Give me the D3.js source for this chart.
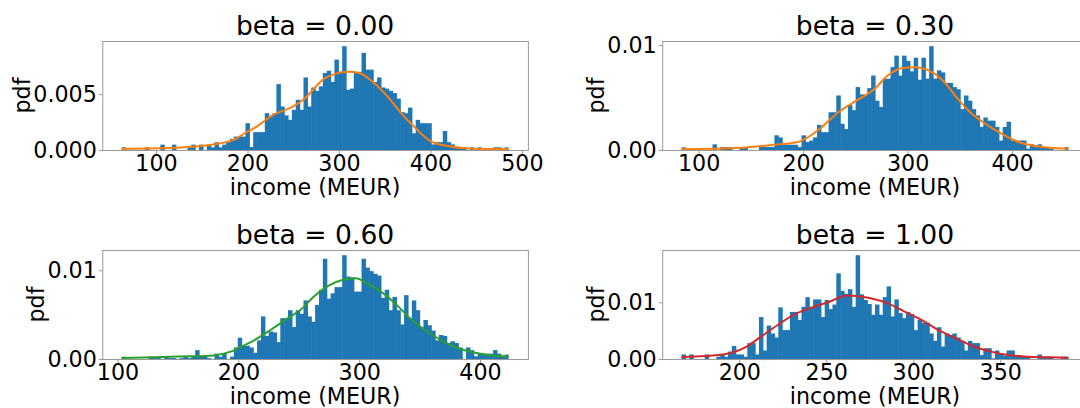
<!DOCTYPE html>
<head>
	<meta charset="utf-8" />
	<style>
		body {
			margin: 0;
			background-color: #fff;
			overflow: hidden;
		}
		svg text {
			font-family: 'DejaVu Sans', sans-serif;
			fill: #000;
		}
	</style>
</head>

<body>
	<div id="chart-area"></div>

	<script src="https://cdnjs.cloudflare.com/ajax/libs/d3/7.8.5/d3.min.js"></script>

	<script>
		// one entry per panel
		const betas = ['0.00', '0.30', '0.60', '1.00'];

		// income range covered by the 100 histogram bins (MEUR)
		const incomeRange = [
			[62.4, 485.4],
			[83.6, 454.0],
			[103.4, 423.6],
			[166.8, 389.2],
		];

		// bar heights (pdf), 100 bins each
		const hist000 = [
			0.00024, 0, 0, 0, 0, 0, 0.00024, 0, 0, 0,
			0.00048, 0, 0, 0.00048, 0, 0, 0, 0.00024, 0.00048, 0,
			0.00048, 0, 0.00048, 0.00024, 0.0007, 0.00024, 0.00048, 0.0007, 0.001, 0.0012,
			0.0012, 0.0012, 0.0024, 0.00027, 0.0016, 0.0016, 0.0016, 0.0033, 0.003, 0.0033,
			0.0059, 0.0039, 0.0031, 0.0027, 0.0036, 0.0045, 0.0036, 0.0065, 0.0039, 0.0056,
			0.0053, 0.0057, 0.0069, 0.0071, 0.0061, 0.0081, 0.007, 0.0093, 0.0054, 0.0055,
			0.007, 0.007, 0.0087, 0.0072, 0.0072, 0.0061, 0.0065, 0.0056, 0.0055, 0.0053,
			0.0051, 0.0046, 0.0034, 0.0033, 0.0038, 0.0015, 0.0027, 0.0024, 0.0024, 0.0024,
			0.0005, 0.0007, 0.0007, 0.0017, 0.0007, 0.0005, 0.00027, 0.00027, 0.00024, 0,
			0.00024, 0, 0.00024, 0, 0, 0, 0.00024, 0.00024, 0, 0.00024,
		];
		const hist030 = [
			0.00025, 0, 0, 0, 0, 0, 0, 0, 0.00054, 0,
			0.00028, 0.00028, 0.00028, 0, 0, 0.00028, 0.00028, 0, 0, 0,
			0.00028, 0.00028, 0.00028, 0.00028, 0.0014, 0.0012, 0.0005, 0.0005, 0.0005, 0.0005,
			0.00028, 0.0014, 0.00076, 0.0009, 0.0012, 0.0024, 0.0017, 0.0017, 0.0036, 0.0036,
			0.0052, 0.0025, 0.002, 0.0043, 0.0038, 0.006, 0.0053, 0.0053, 0.0059, 0.0071,
			0.0047, 0.0041, 0.0068, 0.0068, 0.0079, 0.009, 0.0071, 0.009, 0.0085, 0.0075,
			0.0088, 0.0067, 0.0088, 0.0068, 0.0099, 0.0068, 0.0076, 0.0074, 0.0064, 0.0064,
			0.006, 0.0058, 0.0039, 0.0052, 0.0047, 0.0039, 0.0033, 0.0022, 0.0031, 0.0028,
			0.0028, 0.0022, 0.0009, 0.0022, 0.0027, 0.0009, 0.0009, 0.0009, 0.0009, 0.00013,
			0.00054, 0.00028, 0.00054, 0.00028, 0.00028, 0.00013, 0, 0, 0, 0.00028,
		];
		const hist060 = [
			0.00026, 0, 0, 0, 0, 0, 0, 0.00026, 0.0001, 0.00026,
			0, 0.00026, 0.0001, 0.0001, 0, 0.0001, 0.00026, 0.0001, 0.00026, 0.001,
			0.00026, 0.00026, 0.0001, 0, 0.0006, 0.00026, 0.0006, 0, 0.00026, 0.0013,
			0.0024, 0.0015, 0.0015, 0.0013, 0.0007, 0.0021, 0.0048, 0.0026, 0.0031, 0.003,
			0.0019, 0.0046, 0.0046, 0.0055, 0.0036, 0.0055, 0.0051, 0.0066, 0.0048, 0.0042,
			0.0061, 0.0078, 0.0113, 0.0068, 0.0074, 0.0081, 0.0081, 0.0117, 0.0093, 0.0092,
			0.0076, 0.0076, 0.0113, 0.0103, 0.0099, 0.0096, 0.0094, 0.0069, 0.0078, 0.0055,
			0.007, 0.0055, 0.0039, 0.0072, 0.0046, 0.0066, 0.0055, 0.0036, 0.0044, 0.0038,
			0.0032, 0.0021, 0.0027, 0.0026, 0.0018, 0.002, 0.0018, 0.0013, 0, 0.0013,
			0.001, 0.0003, 0.0006, 0.0006, 0.0006, 0.0006, 0.001, 0.0006, 0.0003, 0.0005,
		];
		const hist100 = [
			0.0008, 0, 0.0008, 0, 0, 0, 0.0008, 0, 0, 0.0004,
			0.0008, 0.0004, 0.0013, 0.0023, 0.0008, 0.0008, 0.0004, 0.0028, 0.0028, 0.0008,
			0.0074, 0.0015, 0.0059, 0.0045, 0.0038, 0.0091, 0.0051, 0.0051, 0.0083, 0.0083,
			0.0069, 0.0092, 0.0109, 0.0092, 0.0105, 0.0105, 0.0074, 0.0104, 0.0088, 0.0096,
			0.0151, 0.012, 0.0115, 0.0123, 0.0092, 0.0183, 0.0114, 0.0104, 0.0097, 0.0078,
			0.0096, 0.0078, 0.0109, 0.0128, 0.0075, 0.0105, 0.0081, 0.0072, 0.0083, 0.0079,
			0.0051, 0.0069, 0.0064, 0.0064, 0.0045, 0.0032, 0.0056, 0.0022, 0.0045, 0.0042,
			0.0045, 0.0038, 0.0032, 0.0015, 0.0032, 0.0028, 0.0028, 0.0007, 0.0019, 0.0019,
			0.0001, 0.0015, 0.001, 0.0006, 0.0015, 0.0015, 0.0006, 0.0006, 0.0004, 0.0004,
			0, 0, 0.0008, 0.0004, 0.0004, 0.0004, 0, 0, 0.0004, 0.0004,
		];

		// density curves: [income, pdf]
		const kde000 = [
			[62.4, 0.0001], [100, 0.00015], [136, 0.00027], [162, 0.0005], [185, 0.0009],
			[197, 0.0015], [210, 0.0021], [227, 0.0031], [250, 0.0039], [261, 0.0045],
			[284, 0.0064], [295, 0.0068], [310, 0.007], [322, 0.0069], [337, 0.0061],
			[352, 0.0049], [367, 0.0034], [382, 0.0021], [400, 0.0008], [419, 0.00036],
			[438, 0.00015], [457, 0.00009], [485.4, 0.00009],
		];
		const kde030 = [
			[83.6, 0.00006], [113, 0.00013], [146, 0.00025], [172, 0.0005], [195, 0.00076],
			[209, 0.0015], [218, 0.0022], [235, 0.0037], [251, 0.0047], [268, 0.0058],
			[281, 0.0071], [294, 0.0078], [307, 0.0079], [320, 0.0076], [334, 0.0066],
			[347, 0.005], [360, 0.0036], [373, 0.0026], [389, 0.0016], [406, 0.00076],
			[422, 0.00038], [439, 0.00019], [454, 0.00013],
		];
		const kde060 = [
			[103.4, 0.0001], [131, 0.0002], [159, 0.0003], [179, 0.0004], [193, 0.0008],
			[201, 0.0013], [213, 0.0021], [227, 0.0033], [241, 0.0046], [252, 0.0056],
			[263, 0.0071], [275, 0.0083], [286, 0.0089], [297, 0.0091], [308, 0.0084],
			[320, 0.0074], [331, 0.0061], [342, 0.0046], [354, 0.0033], [368, 0.0021],
			[382, 0.0012], [396, 0.0007], [410, 0.0004], [423.6, 0.0003],
		];
		const kde100 = [
			[166.8, 0.00035], [184.6, 0.0006], [196.4, 0.0012], [204.3, 0.0022], [212.3, 0.0039],
			[222.1, 0.006], [232, 0.0079], [241.9, 0.0091], [251.8, 0.0101], [261.7, 0.0112],
			[267.6, 0.0111], [275.5, 0.0107], [285.4, 0.0098], [295.3, 0.0083], [305.2, 0.0068],
			[315.1, 0.005], [325, 0.0036], [334.8, 0.0022], [344.7, 0.0013], [354.6, 0.0007],
			[366.5, 0.0004], [378.3, 0.0003], [389.2, 0.00024],
		];

		// tick labels
		const xTicks = [
			[100, 200, 300, 400, 500],
			[100, 200, 300, 400],
			[100, 200, 300, 400],
			[200, 250, 300, 350],
		];
		const yTicks = [
			[0, 0.005],
			[0, 0.01],
			[0, 0.01],
			[0, 0.01],
		];
		const yFormats = ['.3f', '.2f', '.2f', '.2f'];

		const hists = [hist000, hist030, hist060, hist100];
		const kdes = [kde000, kde030, kde060, kde100];
		const lineColors = ['#ff7f0e', '#ff7f0e', '#2ca02c', '#d62728'];

		const W = 1080, H = 408;
		const panelW = 425.6, panelH = 109;
		// right column runs past the edge of the picture, as in the original
		const lefts = [102.3, 662.2];
		const tops = [41, 250];
		const fontSize = 22.2;

		const svg = d3
			.select('#chart-area')
			.append('svg')
			.attr('width', W)
			.attr('height', H);

		betas.forEach((beta, i) => {
			let left = lefts[i % 2];
			let top = tops[Math.floor(i / 2)];
			drawPanel(i, left, top);
		});

		function drawPanel(i, left, top) {
			let [lo, hi] = incomeRange[i];
			let pad = (hi - lo) * 0.05;
			let heights = hists[i];
			let binW = (hi - lo) / heights.length;
			let bins = heights.map((h, k) => ({ x0: lo + k * binW, x1: lo + (k + 1) * binW, h: h }));

			let x = d3.scaleLinear().domain([lo - pad, hi + pad]).range([0, panelW]);
			let y = d3
				.scaleLinear()
				.domain([0, d3.max(heights) * 1.05])
				.range([panelH, 0]);

			let g = svg.append('g').attr('transform', `translate(${left},${top})`);

			// bars overlap a little so no seams show between neighbours
			g.append('g')
				.selectAll('rect')
				.data(bins)
				.join('rect')
				.attr('x', d => x(d.x0))
				.attr('width', (d, k) => x(d.x1) - x(d.x0) + (k < bins.length - 1 ? 0.6 : 0))
				.attr('y', d => y(d.h))
				.attr('height', d => panelH - y(d.h))
				.attr('fill', '#1f77b4');

			let line = d3
				.line()
				.x(d => x(d[0]))
				.y(d => y(d[1]))
				.curve(d3.curveMonotoneX);

			g.append('path')
				.datum(kdes[i])
				.attr('d', line)
				.attr('fill', 'none')
				.attr('stroke', lineColors[i])
				.attr('stroke-width', 2);

			// frame
			g.append('rect')
				.attr('x', 0.5)
				.attr('y', 0.5)
				.attr('width', panelW)
				.attr('height', panelH)
				.attr('fill', 'none')
				.attr('stroke', '#999');

			let xAxis = g
				.append('g')
				.attr('transform', `translate(0,${panelH + 0.5})`)
				.call(
					d3.axisBottom(x)
						.tickValues(xTicks[i])
						.tickFormat(d3.format('d'))
						.tickSizeInner(4)
						.tickSizeOuter(0)
						.tickPadding(1)
				);

			let yAxis = g
				.append('g')
				.attr('transform', 'translate(0.5,0)')
				.call(
					d3.axisLeft(y)
						.tickValues(yTicks[i])
						.tickFormat(d3.format(yFormats[i]))
						.tickSizeInner(4)
						.tickSizeOuter(0)
						.tickPadding(2)
				);

			[xAxis, yAxis].forEach(a => {
				a.select('.domain').remove();
				a.selectAll('line').attr('stroke', '#999');
				a.selectAll('text')
					.attr('font-size', fontSize)
					.attr('font-family', "'DejaVu Sans', sans-serif");
				a.attr('font-size', null).attr('font-family', null);
			});

			g.append('text')
				.attr('x', panelW / 2)
				.attr('y', -6)
				.attr('text-anchor', 'middle')
				.attr('font-size', 26.6)
				.text('beta = ' + betas[i]);

			g.append('text')
				.attr('x', panelW / 2)
				.attr('y', panelH + 45)
				.attr('text-anchor', 'middle')
				.attr('font-size', fontSize)
				.text('income (MEUR)');

			// y label sits just left of the widest tick label
			let tickBox = yAxis.node().getBBox();
			g.append('text')
				.attr('transform', `translate(${tickBox.x - 2.5},${panelH / 2}) rotate(-90)`)
				.attr('text-anchor', 'middle')
				.attr('font-size', fontSize)
				.text('pdf');
		}
	</script>
</body>
